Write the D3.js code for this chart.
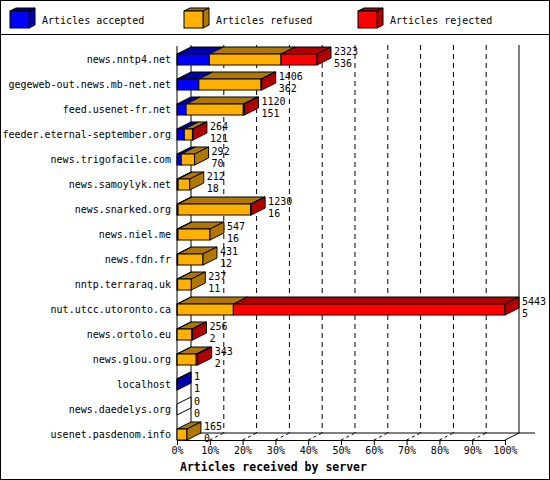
<!DOCTYPE html>
<html>
<head>
<meta charset="utf-8">
<script src="https://cdn.jsdelivr.net/npm/d3@7"></script>
<style>
  body { margin: 0; background: #fff; }
  text { font-family: "DejaVu Sans Mono", monospace; font-size: 10px; fill: #000; }
</style>
</head>
<body>
<div id="chart"></div>
<script>
// servers and their article counts
var servers = ["news.nntp4.net", "gegeweb-out.news.mb-net.net", "feed.usenet-fr.net",
  "feeder.eternal-september.org", "news.trigofacile.com", "news.samoylyk.net",
  "news.snarked.org", "news.niel.me", "news.fdn.fr", "nntp.terraraq.uk",
  "nut.utcc.utoronto.ca", "news.ortolo.eu", "news.glou.org", "localhost",
  "news.daedelys.org", "usenet.pasdenom.info"];
var totals   = [2323, 1406, 1120, 264, 292, 212, 1230, 547, 431, 237, 5443, 256, 343, 1, 0, 165];
var accepted = [536, 362, 151, 121, 70, 18, 16, 16, 12, 11, 5, 2, 2, 1, 0, 0];
var refused  = [1190, 1032, 949, 135, 222, 194, 1204, 531, 419, 226, 930, 244, 316, 0, 0, 165];
var rejected = [597, 12, 20, 8, 0, 0, 10, 0, 0, 0, 4508, 10, 25, 0, 0, 0];

var seriesNames = ["Articles accepted", "Articles refused", "Articles rejected"];
var colors = ["#0000ff", "#ffb000", "#ff0000"];
var darks  = ["#0000a8", "#b07800", "#b00000"];
var pctTicks = [0, 10, 20, 30, 40, 50, 60, 70, 80, 90, 100];

var w = 550, h = 480;
var dx = 14, dy = 7;          // depth of the 3D effect
var floorY = 440, topY = 45;

var svg = d3.select("#chart").append("svg")
  .attr("width", w).attr("height", h)
  .style("background-color", "#fff");

svg.append("rect").attr("x", 0.5).attr("y", 0.5)
  .attr("width", w - 1).attr("height", h - 1)
  .attr("fill", "none").attr("stroke", "#000");
svg.append("line").attr("x1", 0).attr("x2", w).attr("y1", 34.5).attr("y2", 34.5)
  .attr("stroke", "#000");

// legend
var legX = [10, 184, 358];
seriesNames.forEach(function(name, i) {
  var x = legX[i], y = 11, bw = 19, bh = 17, ox = 6, oy = 3;
  var g = svg.append("g");
  g.append("polygon")
    .attr("points", [[x, y], [x + bw, y], [x + bw + ox, y - oy], [x + ox, y - oy]].join(" "))
    .attr("fill", darks[i]).attr("stroke", "#000");
  g.append("polygon")
    .attr("points", [[x + bw, y], [x + bw + ox, y - oy], [x + bw + ox, y + bh - oy], [x + bw, y + bh]].join(" "))
    .attr("fill", darks[i]).attr("stroke", "#000");
  g.append("rect").attr("x", x).attr("y", y).attr("width", bw).attr("height", bh)
    .attr("fill", colors[i]).attr("stroke", "#000");
  g.append("text").attr("x", x + 32).attr("y", 24).text(name);
});

// scales
var xScale = d3.scaleLinear().domain([0, d3.max(totals)]).range([177, 505]);
var pScale = d3.scaleLinear().domain([0, 100]).range([177, 505]);
var yScale = d3.scalePoint().domain(servers).range([59, 434]);

// back wall grid lines
var grid = svg.append("g");
pctTicks.forEach(function(p) {
  var x = pScale(p) + dx;
  grid.append("line")
    .attr("x1", x).attr("x2", x).attr("y1", topY).attr("y2", floorY - dy)
    .attr("stroke", "#000")
    .attr("stroke-dasharray", (p === 0 || p === 100) ? null : "5,4");
  if (p > 0 && p < 100) {
    grid.append("line")
      .attr("x1", pScale(p)).attr("y1", floorY)
      .attr("x2", x).attr("y2", floorY - dy)
      .attr("stroke", "#000").attr("stroke-dasharray", "3,3");
  }
});
// floor
grid.append("line").attr("x1", pScale(0) + dx).attr("x2", 535)
  .attr("y1", floorY - dy).attr("y2", floorY - dy).attr("stroke", "#000");
grid.append("line").attr("x1", pScale(100)).attr("y1", floorY)
  .attr("x2", pScale(100) + dx).attr("y2", floorY - dy).attr("stroke", "#000");
grid.append("line").attr("x1", pScale(0)).attr("y1", floorY)
  .attr("x2", pScale(0) + dx).attr("y2", floorY - dy).attr("stroke", "#000");
// front vertical axis
grid.append("line").attr("x1", pScale(0)).attr("x2", pScale(0))
  .attr("y1", topY + 1).attr("y2", floorY).attr("stroke", "#000");

// bars
var bars = svg.append("g");
servers.forEach(function(s, i) {
  var cy = yScale(s);
  var y0 = cy - 5, y1 = cy + 6;
  var vals = [accepted[i], refused[i], rejected[i]];
  var cum = 0, last = -1;
  vals.forEach(function(v, k) {
    if (v <= 0) return;
    var xa = xScale(cum), xb = xScale(cum + v);
    bars.append("polygon")
      .attr("points", [[xa, y0], [xb, y0], [xb + dx, y0 - dy], [xa + dx, y0 - dy]].join(" "))
      .attr("fill", darks[k]).attr("stroke", "#000");
    bars.append("rect").attr("x", xa).attr("y", y0)
      .attr("width", xb - xa).attr("height", y1 - y0)
      .attr("fill", colors[k]).attr("stroke", "#000");
    cum += v;
    last = k;
  });
  var xe = xScale(cum);
  bars.append("polygon")
    .attr("points", [[xe, y0], [xe + dx, y0 - dy], [xe + dx, y1 - dy], [xe, y1]].join(" "))
    .attr("fill", last < 0 ? "#fff" : darks[last]).attr("stroke", "#000");

  bars.append("text").attr("x", xe + dx + 3).attr("y", cy - 4).text(totals[i]);
  bars.append("text").attr("x", xe + dx + 3).attr("y", cy + 8).text(accepted[i]);

  svg.append("text").attr("x", 171).attr("y", cy + 4)
    .attr("text-anchor", "end").text(s);
});

// front floor edge + percentage axis
var axis = svg.append("g")
  .attr("transform", "translate(0," + floorY + ")")
  .call(d3.axisBottom(pScale).tickValues(pctTicks).tickSize(5).tickPadding(2)
    .tickFormat(function(d) { return d + "%"; }));
axis.select(".domain").attr("d", "M" + pScale(0) + ",0.5H" + pScale(100));
axis.selectAll("text").style("font-family", "DejaVu Sans Mono").style("font-size", "10px");

svg.append("text").attr("x", 180).attr("y", 471)
  .style("font-weight", "bold").style("font-size", "11.5px")
  .text("Articles received by server");
</script>
</body>
</html>
